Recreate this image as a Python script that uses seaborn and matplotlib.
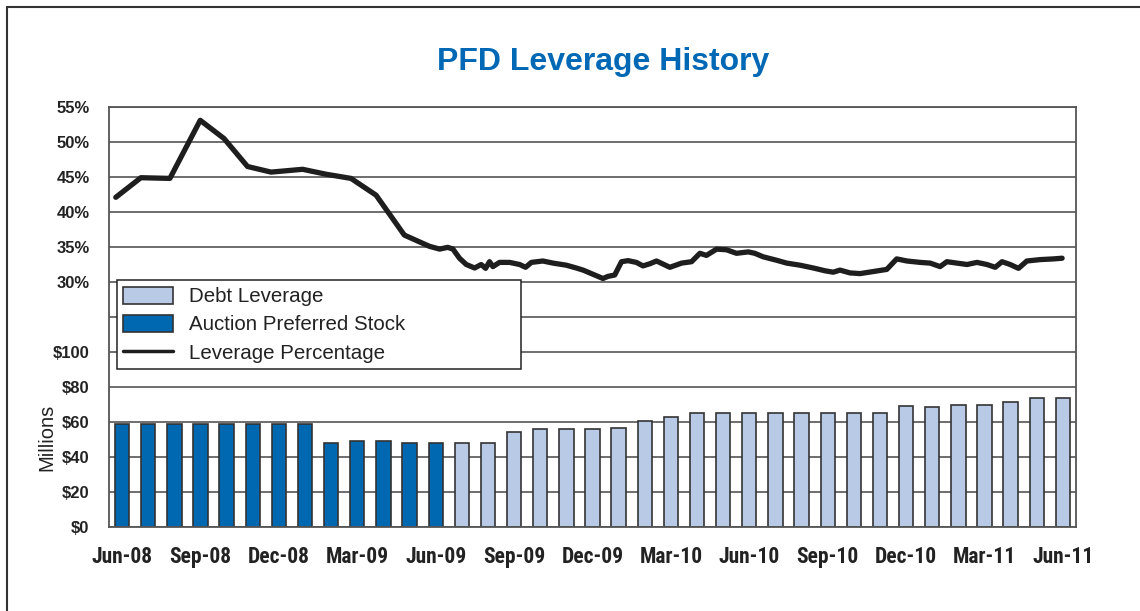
import pandas as pd
import matplotlib.pyplot as plt
import seaborn as sns
from matplotlib.patches import Patch
from matplotlib.lines import Line2D

# 月次の棒グラフデータ（百万ドル）
months = pd.date_range("2008-06-01", periods=37, freq="MS").strftime("%b-%y").tolist()
aps_values = [59, 59, 59, 59, 59, 59, 59, 59, 48, 49, 49, 48, 48]
debt_values = [48, 48, 54.5, 55.8, 55.8, 55.8, 56.6, 60.6, 62.7,
               65.2, 65.2, 65.2, 65.2, 65.2, 65.2, 65.2, 65.2,
               69.2, 68.5, 69.8, 69.8, 71.5, 73.6, 73.6]

# レバレッジ比率（x は Jun-08 からの月数）
line_month = [-0.24, 0.72, 1.83, 2.99, 3.90, 4.80, 5.70, 6.91, 7.80, 8.76, 9.72,
              10.80, 11.76, 12.15, 12.46, 12.66, 12.91, 13.17, 13.49, 13.74, 13.91,
              14.06, 14.19, 14.44, 14.83, 15.21, 15.44, 15.66, 16.10, 16.49, 17.00,
              17.38, 17.64, 18.02, 18.40, 18.59, 18.85, 19.11, 19.36, 19.68, 19.93,
              20.19, 20.45, 20.96, 21.41, 21.79, 22.11, 22.36, 22.75, 23.13, 23.51,
              23.96, 24.21, 24.53, 25.05, 25.43, 25.94, 26.45, 26.90, 27.21, 27.47,
              27.85, 28.24, 28.75, 29.26, 29.64, 30.03, 30.54, 30.92, 31.30, 31.56,
              31.94, 32.33, 32.71, 33.09, 33.41, 33.67, 33.98, 34.30, 34.62, 35.13,
              35.64, 35.97]
line_pct = [42.1, 44.9, 44.8, 53.1, 50.5, 46.5, 45.7, 46.1, 45.4, 44.8, 42.4,
            36.7, 35.1, 34.7, 34.95, 34.7, 33.4, 32.5, 32.0, 32.5, 31.95,
            32.9, 32.2, 32.8, 32.8, 32.5, 32.1, 32.8, 33.0, 32.7, 32.4,
            32.0, 31.7, 31.1, 30.5, 30.8, 31.0, 32.9, 33.05, 32.8, 32.3,
            32.6, 33.0, 32.1, 32.7, 32.9, 34.1, 33.8, 34.7, 34.6, 34.1,
            34.3, 34.1, 33.6, 33.1, 32.7, 32.4, 32.0, 31.6, 31.4, 31.7,
            31.3, 31.2, 31.5, 31.8, 33.3, 33.0, 32.8, 32.7, 32.2, 32.9,
            32.7, 32.5, 32.8, 32.5, 32.1, 32.9, 32.5, 31.95, 33.0, 33.2,
            33.3, 33.4]

APS_LABEL = "Auction Preferred Stock"
DEBT_LABEL = "Debt Leverage"
dark_blue = "#0067b1"
light_blue = "#b9cae7"

df = pd.DataFrame({
    "month": months,
    "value": aps_values + debt_values,
    "type": [APS_LABEL] * len(aps_values) + [DEBT_LABEL] * len(debt_values),
})

sns.set_style("white")
plt.rcParams["font.family"] = ["Liberation Sans", "DejaVu Sans"]

fig = plt.figure(figsize=(11.4, 6.11), dpi=100)
W, H = 1140, 611
ax = fig.add_axes([109 / W, 1 - 527 / H, (1076 - 109) / W, (527 - 107) / H])

sns.barplot(data=df, x="month", y="value", hue="type", dodge=False, width=0.55,
            palette={APS_LABEL: dark_blue, DEBT_LABEL: light_blue}, saturation=1,
            edgecolor="#333333", linewidth=1.2, legend=False, ax=ax)

ax.set_ylim(0, 240)
ax.set_xlim(-0.5, len(months) - 0.5)
ax.set_yticks(range(0, 241, 20))
ax.set_yticklabels([f"${v}" if v <= 100 else "" for v in range(0, 241, 20)])
ax.grid(axis="y", color="#555555", linewidth=1.2)
ax.set_axisbelow(True)
ax.set_xlabel("")
ax.set_ylabel("")

# x 軸: 3か月ごとのラベルと月境界の目盛り
ax.set_xticks(range(0, len(months), 3))
ax.set_xticklabels(months[::3], fontweight="bold", fontsize=15.5, fontstretch="condensed",
                   family=["Roboto Condensed", "DejaVu Sans"])
ax.set_xticks([i - 0.5 for i in range(len(months) + 1)], minor=True)
ax.tick_params(axis="x", which="major", length=0, pad=14)
ax.tick_params(axis="x", which="minor", length=8, width=1.2, color="#333333", direction="out")
ax.tick_params(axis="y", length=0, pad=14, labelsize=12)
for t in ax.get_yticklabels():
    t.set_fontweight("bold")
    t.set_color("#222222")
for t in ax.get_xticklabels():
    t.set_color("#222222")
for s in ax.spines.values():
    s.set_color("#555555")
    s.set_linewidth(1.3)

# 比率の折れ線（右軸を左に寄せる）
ax2 = ax.twinx()
sns.lineplot(x=line_month, y=line_pct, color="#1e1e1e", linewidth=3.8, sort=False, ax=ax2)
ax2.set_ylim(-5, 55)
ax2.set_xlim(-0.5, len(months) - 0.5)
ax2.set_yticks([30, 35, 40, 45, 50, 55])
ax2.set_yticklabels([f"{v}%" for v in [30, 35, 40, 45, 50, 55]])
ax2.yaxis.set_ticks_position("left")
ax2.tick_params(axis="y", length=0, pad=14, labelsize=12)
for t in ax2.get_yticklabels():
    t.set_fontweight("bold")
    t.set_color("#222222")
ax2.grid(False)
for s in ax2.spines.values():
    s.set_visible(False)

handles = [
    Patch(facecolor=light_blue, edgecolor="#333333", linewidth=1.2, label=DEBT_LABEL),
    Patch(facecolor=dark_blue, edgecolor="#333333", linewidth=1.2, label=APS_LABEL),
    Line2D([0], [0], color="#1e1e1e", linewidth=2.5, label="Leverage Percentage"),
]
leg = ax2.legend(handles=handles, loc="upper left", bbox_to_anchor=(0.008, 0.371, 0.418, 0.217),
                 mode="expand", borderaxespad=0, fontsize=14.8, frameon=True, fancybox=False,
                 framealpha=1, handlelength=2.4, handleheight=0.9, handletextpad=0.8,
                 labelspacing=0.42, borderpad=0.32)
leg.get_frame().set_edgecolor("#222222")
leg.get_frame().set_linewidth(1.1)
for t in leg.get_texts():
    t.set_color("#222222")

fig.text(47 / W, 1 - 437 / H, "Millions", rotation=90, ha="center", va="center",
         fontsize=14.5, color="#222222")
fig.text(603 / W, 1 - 62 / H, "PFD Leverage History", ha="center", va="center",
         fontsize=23, fontweight="bold", color="#0068b4")

# 外枠（左と上）
fig.add_artist(Line2D([6.7 / W, 6.7 / W], [0, 1 - 7 / H], color="#333333", linewidth=1.5))
fig.add_artist(Line2D([6.7 / W, 1], [1 - 7 / H, 1 - 7 / H], color="#333333", linewidth=1.5))

fig.savefig("out.png", dpi=100)
